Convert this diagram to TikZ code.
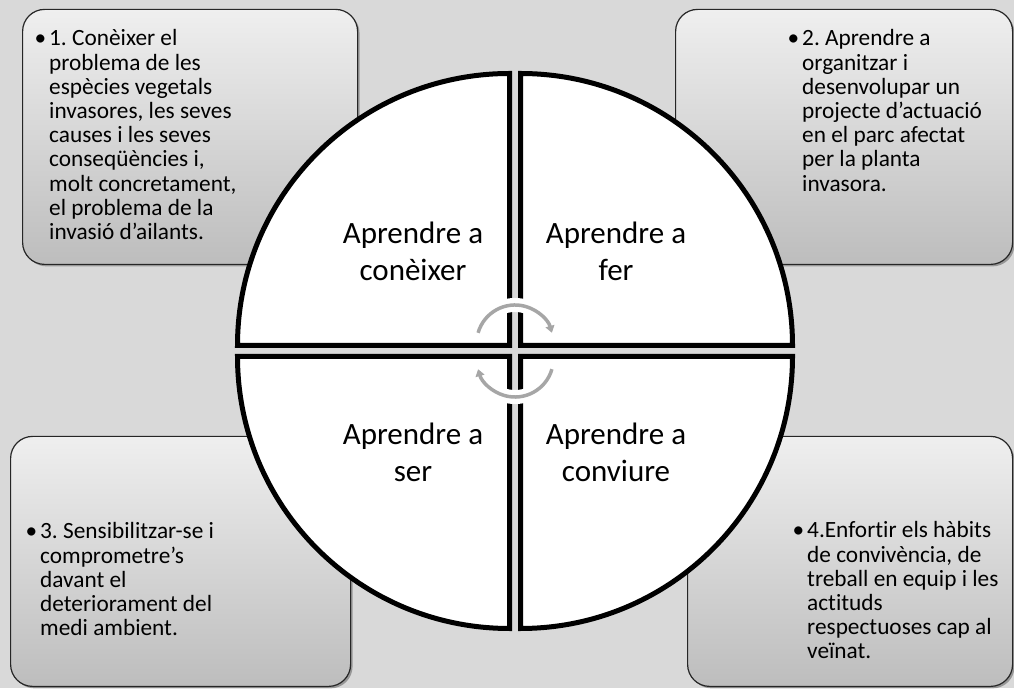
\documentclass[tikz,border=0pt]{standalone}
\usepackage{fontspec}
\setmainfont{Carlito}[Ligatures={TeX,NoCommon}]
\usepackage{xcolor}
\usetikzlibrary{arrows.meta,shadows}
\definecolor{bggray}{HTML}{D9D9D9}
\definecolor{cardtop}{HTML}{EFEFEF}
\definecolor{cardbot}{HTML}{BDBDBD}
\definecolor{cyclegray}{HTML}{A6A6A6}
\newcommand{\cardbullet}{\leavevmode\llap{\textbullet\kern3pt}}

\begin{document}
\begin{tikzpicture}[x=1pt, y=1pt,
    card/.style={draw=black!85, line width=1.2pt, rounded corners=22pt,
        top color=cardtop, bottom color=cardbot, anchor=south west,
        drop shadow={shadow xshift=2pt, shadow yshift=-2pt, opacity=0.3, fill=black}},
    cardtext/.style={anchor=base west, inner sep=0pt, font=\fontsize{23.3}{24.2}\selectfont\frenchspacing},
    quarter/.style={draw=black, line width=5pt, fill=white},
    quartertext/.style={align=center, inner sep=0pt, font=\fontsize{31}{37}\selectfont},
    cyclearrow/.style={draw=cyclegray, line width=3.5pt, -{Triangle[length=7pt, width=9pt]}},
    halo/.style={draw=white, line width=14pt}]

    % background
    \fill[bggray] (0,0) rectangle (1014,688);
    \useasboundingbox (0,0) rectangle (1014,688);

    % CORNER CARDS
    \node[card, minimum width=335pt, minimum height=255pt] (k1) at (22,423) {};
    \node[card, minimum width=337pt, minimum height=255pt] (k2) at (675,423) {};
    \node[card, minimum width=340pt, minimum height=250pt] (k3) at (10,1) {};
    \node[card, minimum width=325pt, minimum height=250pt] (k4) at (687,1) {};

    \node[cardtext] (t1) at (49,642) {\parbox[t]{300pt}{\raggedright
        \cardbullet 1. Conèixer el\\ problema de les\\ espècies vegetals\\
        invasores, les seves\\ causes i les seves\\ conseqüències i,\\
        molt concretament,\\ el problema de la\\ invasió d’ailants.}};
    \node[cardtext] (t2) at (802,642) {\parbox[t]{300pt}{\raggedright
        \cardbullet 2. Aprendre a\\ organitzar i\\ desenvolupar un\\
        projecte d’actuació\\ en el parc afectat\\ per la planta\\ invasora.}};
    \node[cardtext] (t3) at (40,149) {\parbox[t]{300pt}{\raggedright
        \cardbullet 3. Sensibilitzar-se i\\ comprometre’s\\ davant el\\
        deteriorament del\\ medi ambient.}};
    \node[cardtext] (t4) at (807,150) {\parbox[t]{300pt}{\raggedright
        \cardbullet 4.Enfortir els hàbits\\ de convivència, de\\
        treball en equip i les\\ actituds\\ respectuoses cap al\\ veïnat.}};

    % CIRCLE: four quarters
    \draw[quarter] (509.5,342.5) -- ++(-272,0) arc[start angle=180, end angle=90, radius=272] -- cycle;
    \draw[quarter] (520.5,342.5) -- ++(0,272) arc[start angle=90, end angle=0, radius=272] -- cycle;
    \draw[quarter] (509.5,331.5) -- ++(-272,0) arc[start angle=180, end angle=270, radius=272] -- cycle;
    \draw[quarter] (520.5,331.5) -- ++(272,0) arc[start angle=0, end angle=-90, radius=272] -- cycle;

    \node[quartertext] (q1) at (413,437) {Aprendre a\\conèixer};
    \node[quartertext] (q2) at (616,437) {Aprendre a\\fer};
    \node[quartertext] (q3) at (413,236) {Aprendre a\\ser};
    \node[quartertext] (q4) at (616,236) {Aprendre a\\conviure};

    % CENTRE: cycle arrows
    \coordinate (upstart) at (478.1,355.2);
    \coordinate (lowstart) at (551.9,318.8);
    \draw[halo] (upstart) arc[start angle=164, end angle=16, radius=38.4];
    \draw[halo] (lowstart) arc[start angle=-16, end angle=-164, radius=38.4];
    \draw[cyclearrow] (upstart) arc[start angle=164, end angle=16, radius=38.4];
    \draw[cyclearrow] (lowstart) arc[start angle=-16, end angle=-164, radius=38.4];
\end{tikzpicture}
\end{document}
